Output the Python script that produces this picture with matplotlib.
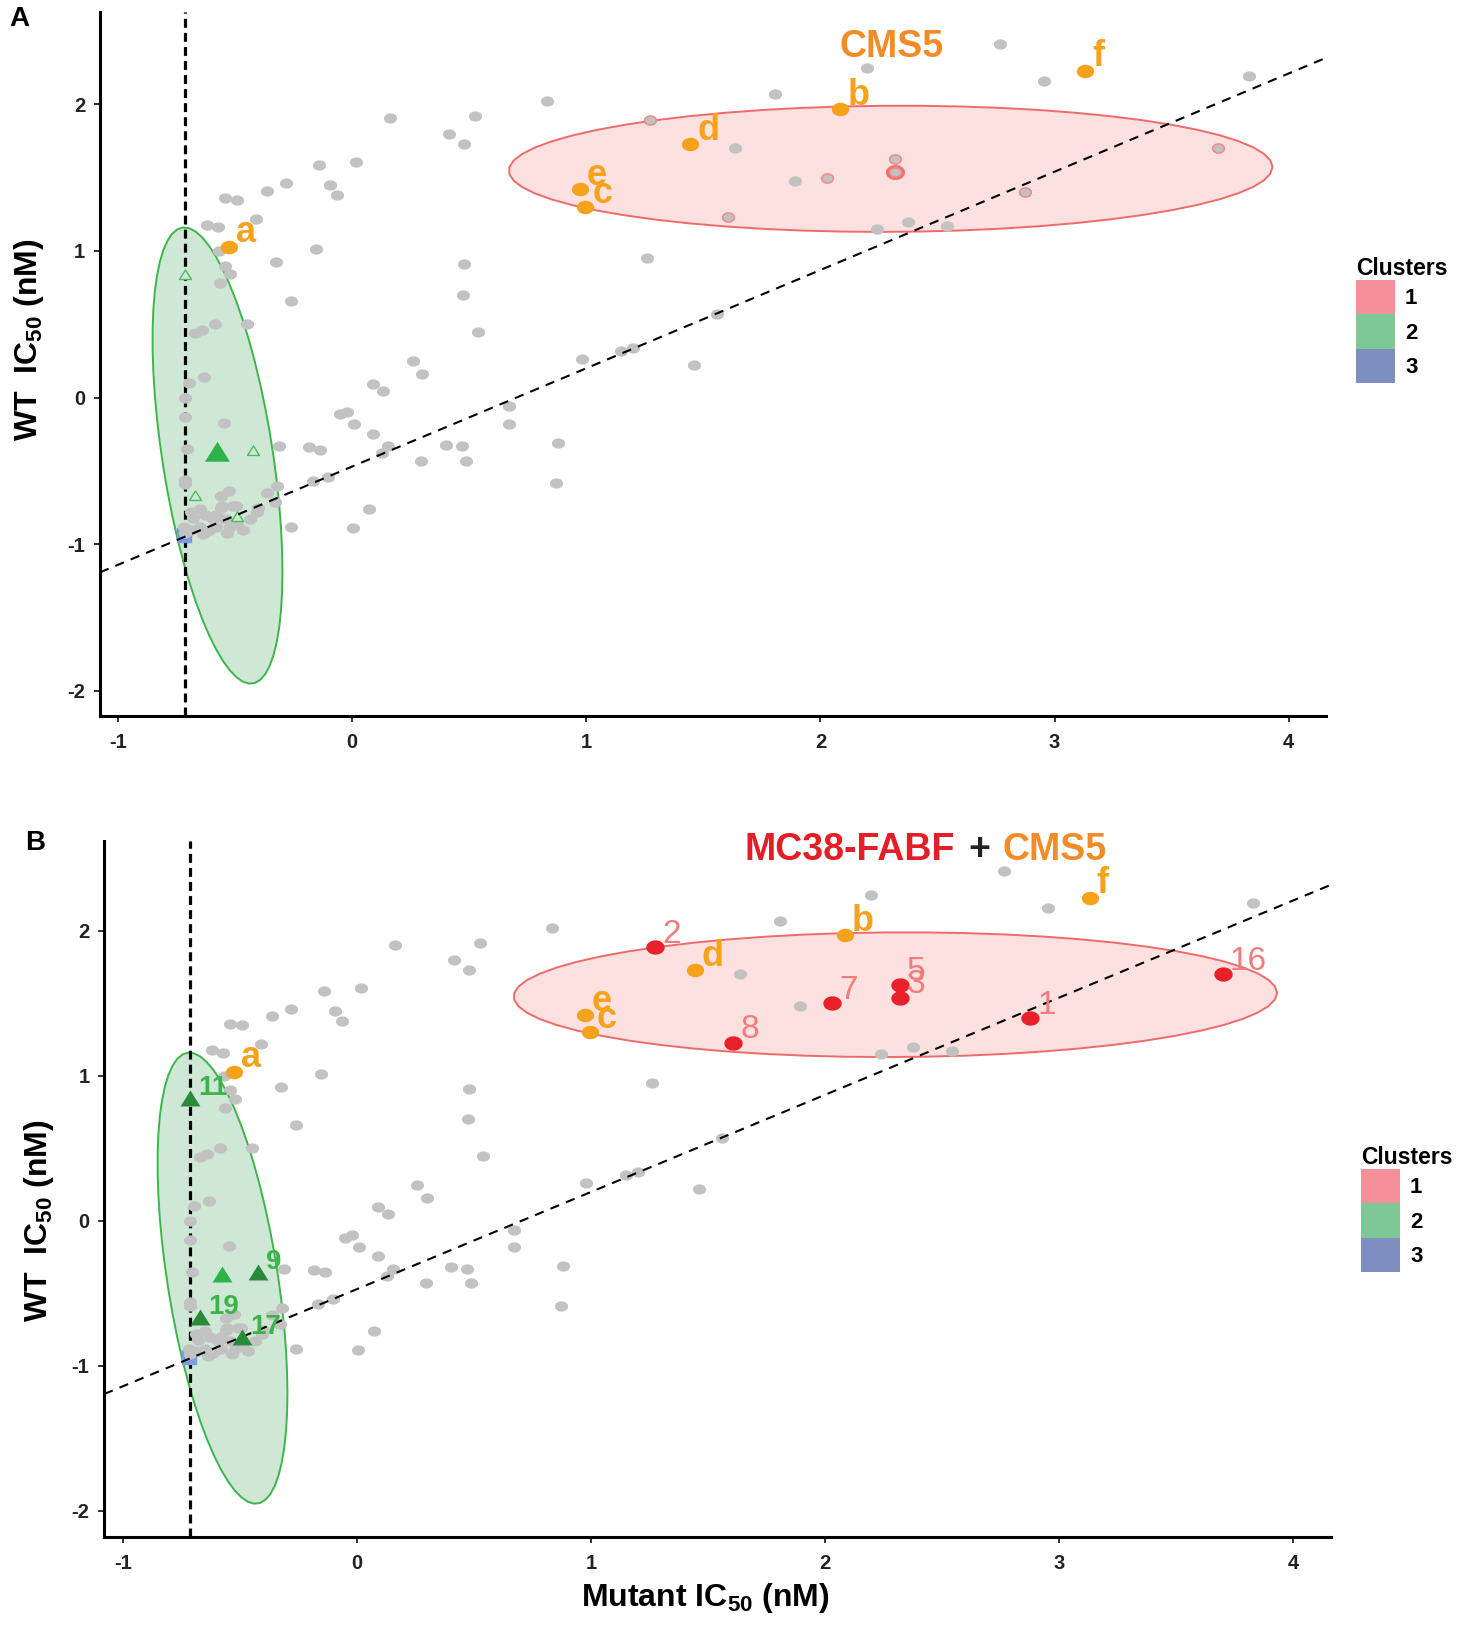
import numpy as np
import matplotlib
matplotlib.use('Agg')
import matplotlib.pyplot as plt
from matplotlib.patches import Patch, Polygon

plt.rcParams['font.family'] = ['Liberation Sans', 'DejaVu Sans']
plt.rcParams['axes.unicode_minus'] = False
plt.rcParams['mathtext.fontset'] = 'custom'
plt.rcParams['mathtext.rm'] = 'Liberation Sans'
plt.rcParams['mathtext.bf'] = 'Liberation Sans:bold'

# log10 IC50 values (mutant, WT) of all peptides
gray_x = [0.162, 0.526, 0.414, 0.478, -0.141, 0.017, -0.282, -0.363, -0.094, -0.064,
          -0.544, -0.491, -0.41, -0.621, -0.573, -0.154, -0.323, -0.57, -0.544, -0.52,
          -0.564, -0.26, 0.478, 0.474, 0.536, -0.585, -0.449, -0.67, -0.64, 0.258,
          0.30, 0.09, 0.133, -0.632, -0.697, -0.714,
          -0.714, -0.547, -0.05, -0.02, 0.009, 0.09, -0.312, -0.183, -0.137, 0.155,
          0.128, 0.40, 0.47, 0.295, 0.487, -0.705, -0.714, -0.714, -0.166, -0.103,
          -0.32, -0.363, -0.526, -0.56, -0.33, -0.40, -0.496, -0.56, 0.073, -0.26, 0.004,
          -0.69, -0.65, -0.556, -0.51, -0.68, -0.63, -0.594, -0.58, -0.543, -0.72,
          -0.69, -0.65, -0.615, -0.58, -0.52, -0.534, -0.466, -0.436, -0.49, -0.714,
          -0.637, -0.406,
          0.833, 1.637, 1.26, 0.98, 1.15, 1.20, 1.56, 1.46, 0.67, 0.67, 0.88, 0.87,
          2.765, 2.197, 1.808, 2.953, 3.83, 1.893, 2.24, 2.376, 2.54]
gray_y = [1.905, 1.918, 1.80, 1.73, 1.585, 1.605, 1.46, 1.41, 1.45, 1.38,
          1.36, 1.35, 1.22, 1.18, 1.16, 1.01, 0.925, 1.0, 0.90, 0.84,
          0.78, 0.66, 0.91, 0.70, 0.45, 0.50, 0.50, 0.44, 0.46, 0.25,
          0.16, 0.095, 0.045, 0.14, 0.10, 0.0,
          -0.13, -0.17, -0.115, -0.095, -0.18, -0.245, -0.33, -0.34, -0.355, -0.33,
          -0.38, -0.32, -0.33, -0.43, -0.43, -0.35, -0.56, -0.59, -0.57, -0.54,
          -0.60, -0.65, -0.64, -0.67, -0.71, -0.75, -0.74, -0.75, -0.76, -0.88, -0.89,
          -0.78, -0.76, -0.74, -0.74, -0.82, -0.80, -0.83, -0.80, -0.83, -0.88,
          -0.90, -0.88, -0.91, -0.88, -0.88, -0.92, -0.90, -0.83, -0.86, -0.92,
          -0.93, -0.78,
          2.02, 1.70, 0.95, 0.26, 0.32, 0.34, 0.57, 0.22, -0.06, -0.18, -0.31, -0.585,
          2.41, 2.25, 2.07, 2.16, 2.19, 1.48, 1.15, 1.20, 1.17]

# CMS5 epitopes
cms5_labels = ['a', 'b', 'c', 'd', 'e', 'f']
cms5_x = [-0.526, 2.085, 0.996, 1.444, 0.974, 3.13]
cms5_y = [1.03, 1.97, 1.30, 1.73, 1.42, 2.23]

# MC38-FABF epitopes (cluster 1)
fabf_labels = ['2', '7', '5', '3', '1', '8', '16']
fabf_x = [1.274, 2.03, 2.32, 2.32, 2.876, 1.607, 3.70]
fabf_y = [1.89, 1.50, 1.63, 1.54, 1.40, 1.23, 1.70]

# cluster 2 epitopes
tri_labels = ['11', '9', '19', '17']
tri_x = [-0.714, -0.423, -0.67, -0.49]
tri_y = [0.83, -0.37, -0.68, -0.82]
tri_main_x = [-0.575]
tri_main_y = [-0.39]

# cluster 3
blue_x = [-0.718]
blue_y = [-0.94]

# cluster ellipses: centre and covariance
ell_cx = [2.30, -0.575]
ell_cy = [1.56, -0.395]
ell_sxx = [2.66, 0.077]
ell_sxy = [0.02, -0.22]
ell_syy = [0.185, 2.42]

cutoff_x = -0.714
fit_intercept = -0.47
fit_slope = 0.67

cluster_names = ['1', '2', '3']
cluster_colors = ['#F3909A', '#7DC895', '#7F8EC0']

ORANGE = '#F7A21B'
RED = '#E8202A'
SALMON = '#F27B7B'
GREEN = '#3BB54A'
DKGREEN = '#2A8A3C'

t = np.linspace(0, 2 * np.pi, 60)
oval = list(zip(np.cos(t), 0.78 * np.sin(t)))
tri = [(-1, -0.5), (1, -0.5), (0, 1.1), (-1, -0.5)]


def ellipse_points(i):
    cov = np.array([[ell_sxx[i], ell_sxy[i]], [ell_sxy[i], ell_syy[i]]])
    L = np.linalg.cholesky(cov)
    pts = (L @ np.vstack([np.cos(t), np.sin(t)])).T
    return pts + [ell_cx[i], ell_cy[i]]


def setup_axes(ax, xlim, ylim):
    ax.set_xlim(*xlim)
    ax.set_ylim(*ylim)
    for s in ['top', 'right']:
        ax.spines[s].set_visible(False)
    for s in ['left', 'bottom']:
        ax.spines[s].set_linewidth(2.2)
    ax.set_xticks([-1, 0, 1, 2, 3, 4])
    ax.set_yticks([-2, -1, 0, 1, 2])
    ax.tick_params(axis='both', length=4.5, width=1.3, labelsize=14.5, colors='#222222')
    ax.tick_params(axis='x', pad=8)
    ax.tick_params(axis='y', pad=6)
    for lab in ax.get_xticklabels() + ax.get_yticklabels():
        lab.set_fontweight('bold')


def draw_common(ax):
    ax.add_patch(Polygon(ellipse_points(0), closed=True, facecolor='#FDE1E1',
                         edgecolor='#F06A6A', lw=1.4, zorder=1))
    ax.add_patch(Polygon(ellipse_points(1), closed=True, facecolor='#CFE8D6',
                         edgecolor='#3DB54A', lw=1.4, zorder=1))
    ax.axvline(cutoff_x, color='black', ls=(0, (2.8, 1.6)), lw=2.3, zorder=2)
    ax.scatter(blue_x, blue_y, marker='s', s=110, color='#7B9CDF', zorder=2.5)
    ax.scatter(gray_x, gray_y, marker=oval, s=90, color='#C2C2C2', lw=0, zorder=3)
    ax.axline((0, fit_intercept), slope=fit_slope, color='black',
              ls=(0, (4.5, 3.5)), lw=1.5, zorder=4)
    ax.scatter(cms5_x, cms5_y, marker=oval, s=155, color=ORANGE, lw=0, zorder=5)
    for lab, x, y in zip(cms5_labels, cms5_x, cms5_y):
        ax.annotate(lab, (x, y), xytext=(5, 3), textcoords='offset points',
                    ha='left', va='baseline', fontsize=26, fontweight='bold',
                    color=ORANGE, zorder=6)


def add_legend(ax, fig, anchor):
    handles = [Patch(facecolor=c, edgecolor='none') for c in cluster_colors]
    leg = ax.legend(handles, cluster_names, title='Clusters', loc='upper left',
                    bbox_to_anchor=anchor, bbox_transform=fig.transFigure,
                    frameon=False, fontsize=16, handlelength=1.75, handleheight=2.0,
                    labelspacing=0, handletextpad=0.45, borderpad=0,
                    title_fontproperties={'weight': 'bold', 'size': 16.5})
    for txt in leg.get_texts():
        txt.set_fontweight('bold')
    leg._legend_box.align = 'left'


fig = plt.figure(figsize=(14.72, 16.27), dpi=100)
axA = fig.add_axes([0.0679, 0.560, 0.833, 0.4327])
axB = fig.add_axes([0.0707, 0.0553, 0.8336, 0.4278])

# panel A
setup_axes(axA, (-1.077, 4.16), (-2.17, 2.63))
draw_common(axA)
axA.scatter(tri_x, tri_y, marker=tri, s=90, facecolor='#CFE8D6', edgecolor='#4CBB5E',
            lw=1, zorder=3.5)
axA.scatter(tri_main_x, tri_main_y, marker=tri, s=390, color='#2DB34A', lw=0, zorder=3.5)
axA.scatter(fabf_x[3:4], fabf_y[3:4], marker=oval, s=190, color='#F07070', lw=0, zorder=3.2)
axA.scatter(fabf_x, fabf_y, marker=oval, s=70, facecolor='#C2C2C2', edgecolor='#F28B8B',
            lw=1.2, zorder=3.4)
axA.text(0.646, 0.95, 'CMS5', transform=axA.transAxes, ha='center', va='center',
         fontsize=27, fontweight='bold', color='#F28C28')
axA.set_ylabel(r'WT  IC$_\mathbf{50}$ (nM)', fontsize=23, fontweight='bold')
axA.yaxis.set_label_coords(-0.044, 0.534)
fig.text(19 / 1472, 1 - 19 / 1627, 'A', ha='center', va='center', fontsize=20,
         fontweight='bold')
add_legend(axA, fig, (1345 / 1472, 1 - 246 / 1627))

# panel B
setup_axes(axB, (-1.081, 4.162), (-2.18, 2.62))
draw_common(axB)
axB.scatter(tri_main_x, tri_main_y, marker=tri, s=250, color='#2DB34A', lw=0, zorder=5)
axB.scatter(tri_x, tri_y, marker=tri, s=250, color=DKGREEN, lw=0, zorder=5)
for lab, x, y in zip(tri_labels, tri_x, tri_y):
    axB.annotate(lab, (x, y), xytext=(6, 4), textcoords='offset points',
                 ha='left', va='baseline', fontsize=20, fontweight='bold',
                 color=GREEN, zorder=6)
axB.scatter(fabf_x, fabf_y, marker=oval, s=175, color=RED, lw=0, zorder=5)
for lab, x, y in zip(fabf_labels, fabf_x, fabf_y):
    axB.annotate(lab, (x, y), xytext=(5, 3), textcoords='offset points',
                 ha='left', va='baseline', fontsize=24, color=SALMON, zorder=6)
axB.annotate('+', (0.713, 0.987), xycoords='axes fraction', ha='center', va='center',
             fontsize=27, fontweight='bold', color='#222222')
axB.annotate('MC38-FABF', (0.713, 0.987), xycoords='axes fraction', xytext=(-17, 0),
             textcoords='offset points', ha='right', va='center', fontsize=27,
             fontweight='bold', color='#E31E26')
axB.annotate('CMS5', (0.713, 0.987), xycoords='axes fraction', xytext=(17, 0),
             textcoords='offset points', ha='left', va='center', fontsize=27,
             fontweight='bold', color='#F28C28')
axB.set_ylabel(r'WT  IC$_\mathbf{50}$ (nM)', fontsize=23, fontweight='bold')
axB.yaxis.set_label_coords(-0.039, 0.454)
axB.set_xlabel(r'Mutant IC$_\mathbf{50}$ (nM)', fontsize=23, fontweight='bold')
axB.xaxis.set_label_coords(0.49, -0.063)
fig.text(35 / 1472, 1 - 843 / 1627, 'B', ha='center', va='center', fontsize=20,
         fontweight='bold')
add_legend(axB, fig, (1350 / 1472, 1 - 1135 / 1627))

fig.savefig('out.png', dpi=100)
